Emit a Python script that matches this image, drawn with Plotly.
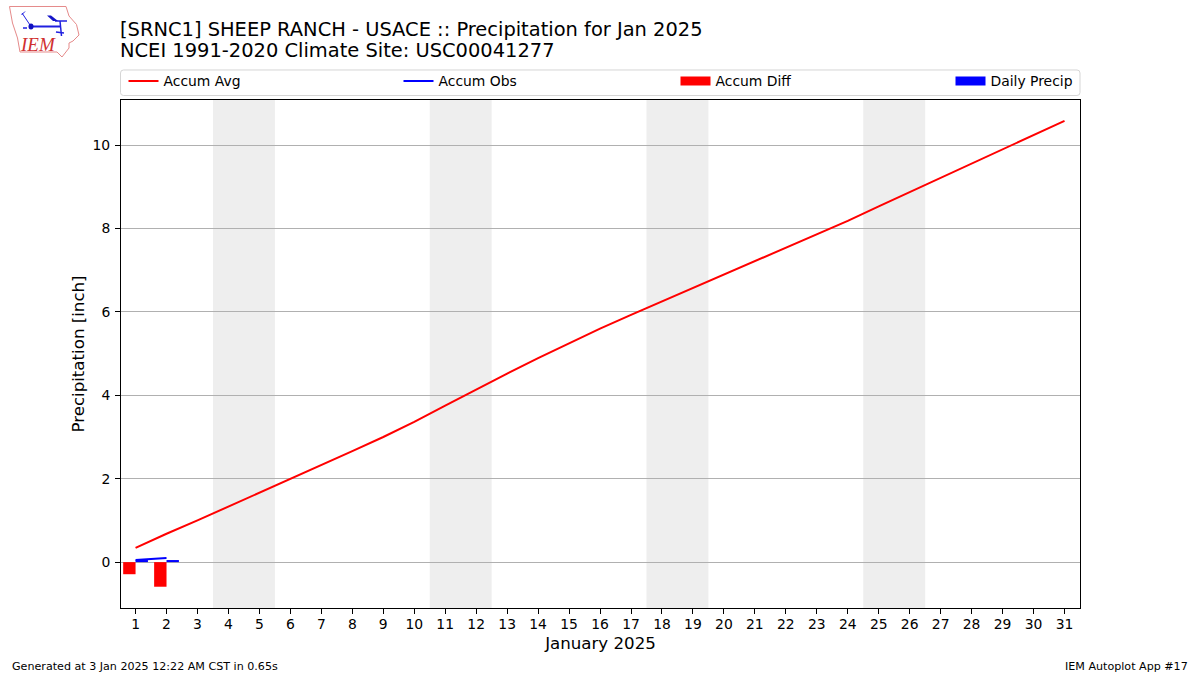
import plotly.graph_objects as go

days = list(range(1, 32))
accum_avg = [0.34, 0.68, 1.00, 1.33, 1.66, 2.00, 2.32, 2.66, 3.00, 3.36, 3.75, 4.14, 4.52, 4.89, 5.25, 5.60,
             5.93, 6.25, 6.58, 6.90, 7.22, 7.54, 7.85, 8.18, 8.53, 8.87, 9.21, 9.55, 9.90, 10.24, 10.58]
obs_days = [1, 2]
accum_obs = [0.05, 0.10]
accum_diff = [-0.29, -0.59]
daily_precip = [0.05, 0.05]
weekends = [(3.5, 5.5), (10.5, 12.5), (17.5, 19.5), (24.5, 26.5)]
y_ticks = [0, 2, 4, 6, 8, 10]

W, H = 1200, 675
L, R, T, B = 121, 1080, 100, 608
FONT = "DejaVu Sans"


def px(x):
    return (x - L) / (R - L)


def py(y):
    return (B - y) / (B - T)


def path(points, close=False):
    s = "M" + " L".join(f"{px(x):.5f},{py(y):.5f}" for x, y in points)
    return s + (" Z" if close else "")


fig = go.Figure()
fig.add_trace(go.Bar(x=obs_days, y=accum_diff, name="Accum Diff", width=0.4, offset=-0.4, showlegend=False,
                     marker=dict(color="#ff0000", line=dict(width=0))))
fig.add_trace(go.Bar(x=obs_days, y=daily_precip, name="Daily Precip", width=0.4, offset=0, showlegend=False,
                     marker=dict(color="#0000ff", line=dict(width=0))))
fig.add_trace(go.Scatter(x=days, y=accum_avg, mode="lines", name="Accum Avg", legend="legend",
                         line=dict(color="#ff0000", width=2)))
fig.add_trace(go.Scatter(x=obs_days, y=accum_obs, mode="lines", name="Accum Obs", legend="legend2",
                         line=dict(color="#0000ff", width=2)))
# legend keys for the bars: wide patches, as a bar's own key is a small square
fig.add_trace(go.Scatter(x=[None], y=[None], mode="lines", name="Accum Diff", legend="legend3",
                         line=dict(color="#ff0000", width=9)))
fig.add_trace(go.Scatter(x=[None], y=[None], mode="lines", name="Daily Precip", legend="legend4",
                         line=dict(color="#0000ff", width=9)))

shapes = [dict(type="rect", xref="x", yref="paper", x0=a, x1=b, y0=0, y1=1,
               fillcolor="#eeeeee", line=dict(width=0), layer="below") for a, b in weekends]
# legend frame with rounded corners
x0, x1, y0, y1, r = 120.5, 1080, 70, 95.5, 3
frame = (f"M{px(x0 + r):.5f},{py(y0):.5f} L{px(x1 - r):.5f},{py(y0):.5f} Q{px(x1):.5f},{py(y0):.5f} {px(x1):.5f},{py(y0 + r):.5f} "
         f"L{px(x1):.5f},{py(y1 - r):.5f} Q{px(x1):.5f},{py(y1):.5f} {px(x1 - r):.5f},{py(y1):.5f} "
         f"L{px(x0 + r):.5f},{py(y1):.5f} Q{px(x0):.5f},{py(y1):.5f} {px(x0):.5f},{py(y1 - r):.5f} "
         f"L{px(x0):.5f},{py(y0 + r):.5f} Q{px(x0):.5f},{py(y0):.5f} {px(x0 + r):.5f},{py(y0):.5f} Z")
shapes.append(dict(type="path", xref="paper", yref="paper", path=frame, line=dict(color="#d5d5d5", width=1)))
# logo
logo_outline = [(9.5, 6.5), (66, 6.5), (69, 16), (76.5, 24.5), (79, 35), (73, 41), (69, 43), (69, 48),
                (62, 57), (57, 52), (20, 52), (17.5, 38), (12.5, 23), (9.5, 6.5)]
shapes.append(dict(type="path", xref="paper", yref="paper", path=path(logo_outline),
                   line=dict(color="#e58a8a", width=1)))
for seg, w in [([(31, 26.5), (61, 26.5)], 2), ([(55, 21), (67, 21)], 1.5), ([(60, 21), (61.5, 36)], 1.5),
               ([(22, 13), (30, 25)], 1), ([(21.5, 15), (25, 11.5)], 1), ([(56, 32), (64, 33)], 1.5),
               ([(23, 28), (27, 28)], 1.5)]:
    shapes.append(dict(type="path", xref="paper", yref="paper", path=path(seg),
                       line=dict(color="#2020e0", width=w)))
shapes.append(dict(type="path", xref="paper", yref="paper", path=path([(47, 15.5), (51, 15.5), (58, 21), (53, 21)], True),
                   fillcolor="#1515c8", line=dict(width=0)))
shapes.append(dict(type="circle", xref="paper", yref="paper", x0=px(28.5), x1=px(33.5), y0=py(29.5), y1=py(23.5),
                   fillcolor="#1010c0", line=dict(width=0)))

annotations = [
    dict(text="[SRNC1] SHEEP RANCH - USACE :: Precipitation for Jan 2025", x=px(118), y=py(29), font=dict(size=19.45)),
    dict(text="NCEI 1991-2020 Climate Site: USC00041277", x=px(118), y=py(51), font=dict(size=19.45)),
    dict(text="Generated at 3 Jan 2025 12:22 AM CST in 0.65s", x=px(10), y=py(666), font=dict(size=11.12)),
    dict(text="IEM Autoplot App #17", x=px(1190), y=py(666), xanchor="right", font=dict(size=11.12)),
    dict(text="<i>IEM</i>", x=px(18), y=py(45), font=dict(size=19, family="Liberation Serif", color="#d03030")),
]
for a in annotations:
    a.update(xref="paper", yref="paper", showarrow=False, yanchor="middle")
    a.setdefault("xanchor", "left")


def legend_at(left):
    return dict(orientation="h", x=px(left), xanchor="left", y=py(81.5), yanchor="middle", itemwidth=30,
                bgcolor="rgba(0,0,0,0)", borderwidth=0, font=dict(size=13.9))


fig.update_layout(
    width=W, height=H, margin=dict(l=L, r=W - R, t=T, b=H - B, autoexpand=False),
    paper_bgcolor="white", plot_bgcolor="white", font=dict(family=FONT, size=13.9, color="black"),
    barmode="overlay", shapes=shapes, annotations=annotations,
    legend=legend_at(123.5), legend2=legend_at(398.5), legend3=legend_at(675.5), legend4=legend_at(950.5),
)
fig.update_xaxes(range=[0.53, 31.50], tickmode="array", tickvals=days, ticks="outside", ticklen=5,
                 tickwidth=1, tickcolor="black", showline=True, linecolor="black", linewidth=1, mirror=True,
                 showgrid=False, zeroline=False, ticklabelstandoff=-2,
                 title=dict(text="January 2025", font=dict(size=16.65), standoff=6))
fig.update_yaxes(range=[-1.10, 11.08], tickmode="array", tickvals=y_ticks, ticks="outside", ticklen=5,
                 tickwidth=1, tickcolor="black", showline=True, linecolor="black", linewidth=1, mirror=True,
                 showgrid=True, gridcolor="#b0b0b0", gridwidth=1, zeroline=False, ticklabelstandoff=2,
                 title=dict(text="Precipitation [inch]", font=dict(size=16.65), standoff=3))
fig.write_html("out.html", config={"displayModeBar": False}, post_script="document.body.style.margin='0';")
